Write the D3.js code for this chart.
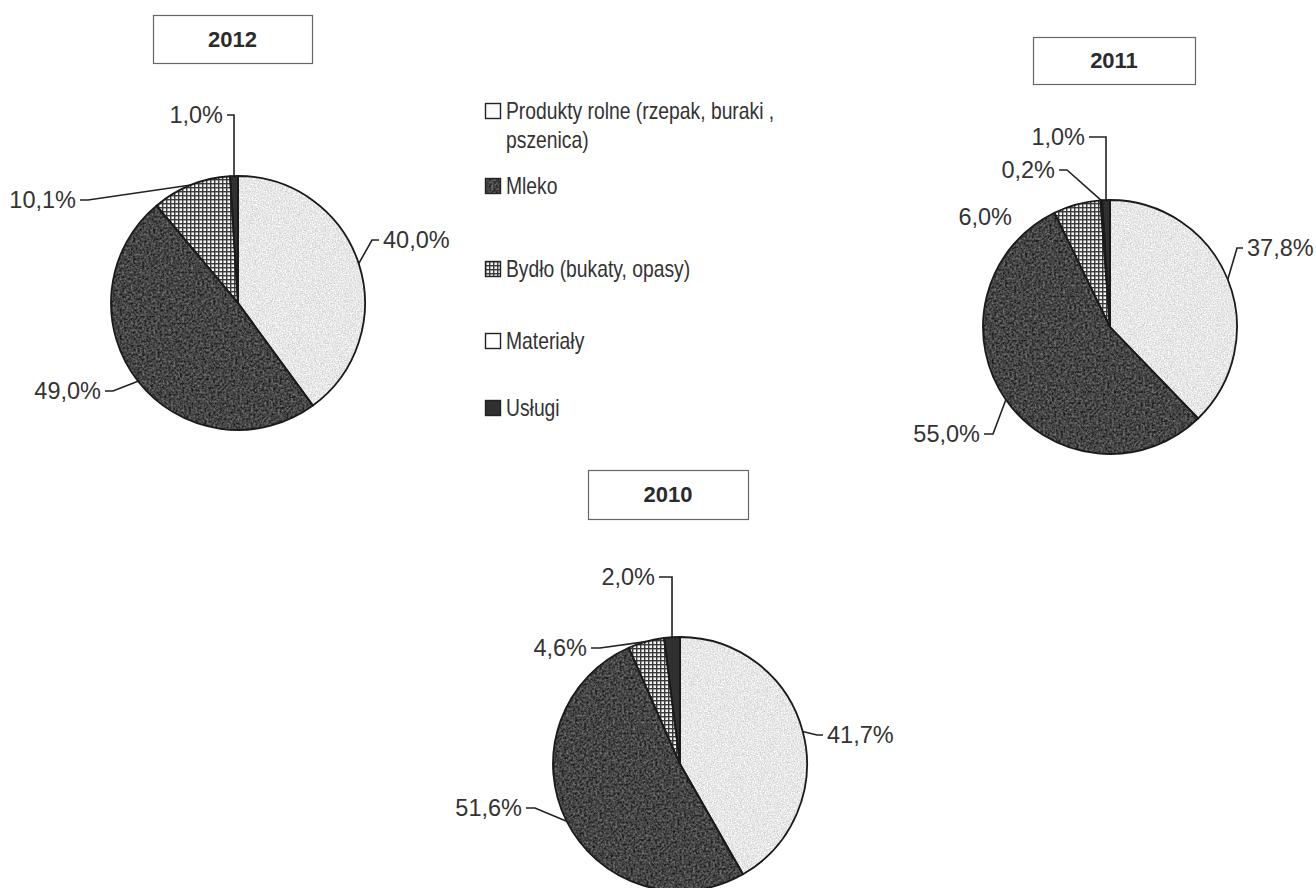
<!DOCTYPE html>
<html>
<head>
<meta charset="utf-8">
<script src="https://cdn.jsdelivr.net/npm/d3@7"></script>
<style>
  body { margin: 0; background: #fff; }
  svg { display: block; font-family: Arial, "Liberation Sans", sans-serif; }
</style>
</head>
<body>
<svg id="chart" width="1316" height="888"></svg>
<script>
// data
const categories = ["Produkty rolne (rzepak, buraki , pszenica)", "Mleko", "Bydło (bukaty, opasy)", "Materiały", "Usługi"];
const legendLines = [["Produkty rolne (rzepak, buraki ,", "pszenica)"], ["Mleko"], ["Bydło (bukaty, opasy)"], ["Materiały"], ["Usługi"]];
const years = ["2012", "2011", "2010"];
const values2012 = [40.0, 49.0, 10.1, 0, 1.0];
const values2011 = [37.8, 55.0, 6.0, 0.2, 1.0];
const values2010 = [41.7, 51.6, 4.6, 0, 2.0];

const svg = d3.select("#chart");
const radius = 127;
const fills = ["#000", "#000", "url(#grid)", "#ffffff", "#303030"];
const textures = ["url(#noiseLight)", "url(#noiseDark)", null, null, null];
const inkColor = "#2b2b2b";

//Textures: noisy light/dark grey and a small check grid
const defs = svg.append("defs");
const noise = (id, scale, offset, freq) => {
  const f = defs.append("filter").attr("id", id)
    .attr("x", 0).attr("y", 0).attr("width", "100%").attr("height", "100%")
    .attr("color-interpolation-filters", "sRGB");
  f.append("feTurbulence").attr("type", "fractalNoise")
    .attr("baseFrequency", freq).attr("numOctaves", 2).attr("seed", 4).attr("result", "n");
  f.append("feColorMatrix").attr("in", "n").attr("type", "matrix")
    .attr("values", `${scale} 0 0 0 ${offset}  ${scale} 0 0 0 ${offset}  ${scale} 0 0 0 ${offset}  0 0 0 0 1`)
    .attr("result", "g");
  f.append("feComposite").attr("in", "g").attr("in2", "SourceAlpha").attr("operator", "in");
};
noise("noiseLight", 0.35, 0.73, 0.7);
noise("noiseDark", 0.6, -0.03, 0.45);

const grid = defs.append("pattern").attr("id", "grid")
  .attr("patternUnits", "userSpaceOnUse").attr("width", 4).attr("height", 4);
grid.append("rect").attr("width", 4).attr("height", 4).attr("fill", "#f4f4f4");
grid.append("rect").attr("width", 4).attr("height", 1.4).attr("fill", "#3a3a3a");
grid.append("rect").attr("width", 1.4).attr("height", 4).attr("fill", "#3a3a3a");

//Pie placement and label layout (label point relative to pie centre)
const pies = [
  { year: years[0], values: values2012, cx: 238, cy: 303, box: [153, 15, 159, 48],
    labels: [
      { i: 4, dx: -15, dy: -188, side: "end", elbow: null },
      { i: 2, dx: -162, dy: -103, side: "end", elbow: 8 },
      { i: 0, dx: 145, dy: -63, side: "start", elbow: 7 },
      { i: 1, dx: -137, dy: 88, side: "end", elbow: 8 },
    ] },
  { year: years[1], values: values2011, cx: 1110, cy: 327, box: [1033, 37, 162, 47],
    labels: [
      { i: 4, dx: -25, dy: -190, side: "end", elbow: null },
      { i: 3, dx: -55, dy: -157, side: "end", elbow: 8 },
      { i: 2, dx: -98, dy: -110, side: "end", elbow: -1 },
      { i: 0, dx: 137, dy: -79, side: "start", elbow: 6 },
      { i: 1, dx: -130, dy: 107, side: "end", elbow: 9 },
    ] },
  { year: years[2], values: values2010, cx: 680, cy: 764, box: [588, 470, 160, 49],
    labels: [
      { i: 4, dx: -25, dy: -187, side: "end", elbow: null },
      { i: 2, dx: -93, dy: -116, side: "end", elbow: 9 },
      { i: 0, dx: 147, dy: -29, side: "start", elbow: 6 },
      { i: 1, dx: -158, dy: 44, side: "end", elbow: 9 },
    ] },
];

const pie = d3.pie().sort(null).value((d) => d);
const arc = d3.arc().innerRadius(0).outerRadius(radius);
const fmt = (v) => d3.format(".1f")(v).replace(".", ",") + "%";

pies.forEach((p) => {
  //title box
  const [bx, by, bw, bh] = p.box;
  svg.append("rect").attr("x", bx + 0.5).attr("y", by + 0.5).attr("width", bw).attr("height", bh)
    .attr("fill", "#fff").attr("stroke", "#666").attr("stroke-width", 1.2);
  svg.append("text").attr("x", bx + bw / 2).attr("y", by + bh / 2).attr("dy", "0.36em")
    .attr("text-anchor", "middle").attr("font-weight", "bold").attr("font-size", 22)
    .attr("fill", inkColor).text(p.year);

  const g = svg.append("g").attr("transform", `translate(${p.cx},${p.cy})`);
  const arcs = pie(p.values);

  g.selectAll("path.fill").data(arcs).enter().append("path")
    .attr("class", "fill")
    .attr("d", arc)
    .attr("fill", (d, i) => fills[i])
    .attr("filter", (d, i) => textures[i]);

  g.selectAll("path.edge").data(arcs.filter((d) => d.value > 0)).enter().append("path")
    .attr("class", "edge")
    .attr("d", arc)
    .attr("fill", "none").attr("stroke", "#1a1a1a").attr("stroke-width", 1.8)
    .attr("stroke-linejoin", "round");

  //labels with leader lines to the slice mid-angle on the rim
  p.labels.forEach((l) => {
    const a = arcs[l.i];
    const mid = (a.startAngle + a.endAngle) / 2;
    const ax = radius * Math.sin(mid);
    const ay = -radius * Math.cos(mid);
    const dir = l.side === "end" ? 1 : -1;
    if (l.elbow !== -1) {
      const x0 = l.dx + dir * 4;
      const y0 = l.dy;
      const x1 = l.elbow === null ? ax : x0 + dir * l.elbow;
      g.append("path")
        .attr("d", d3.line()([[x0, y0], [x1, y0], [ax, ay]]))
        .attr("fill", "none").attr("stroke", "#222").attr("stroke-width", 1.6);
    }
    g.append("text").attr("x", l.dx).attr("y", l.dy).attr("dy", "0.36em")
      .attr("text-anchor", l.side).attr("font-size", 23.5).attr("fill", "#333")
      .text(fmt(p.values[l.i]));
  });
});

//Legend
const legendY = [111, 186, 269, 341, 408];
const legend = svg.append("g").attr("transform", "translate(485,0)");
categories.forEach((c, i) => {
  const row = legend.append("g").attr("transform", `translate(0,${legendY[i]})`);
  row.append("rect").attr("x", 0.5).attr("y", -7.5).attr("width", 15).attr("height", 15)
    .attr("fill", i === 0 ? "#fafafa" : fills[i]).attr("filter", i === 0 ? null : textures[i]);
  row.append("rect").attr("x", 0.5).attr("y", -7.5).attr("width", 15).attr("height", 15)
    .attr("fill", "none").attr("stroke", "#222").attr("stroke-width", 1.4);
  //scanned legend type is a little condensed
  const t = row.append("g").attr("transform", "translate(21,0) scale(0.84,1)");
  legendLines[i].forEach((line, j) => {
    t.append("text").attr("x", 0).attr("y", j * 29).attr("dy", "0.36em")
      .attr("font-size", 23).attr("fill", "#333").text(line);
  });
});
</script>
</body>
</html>
